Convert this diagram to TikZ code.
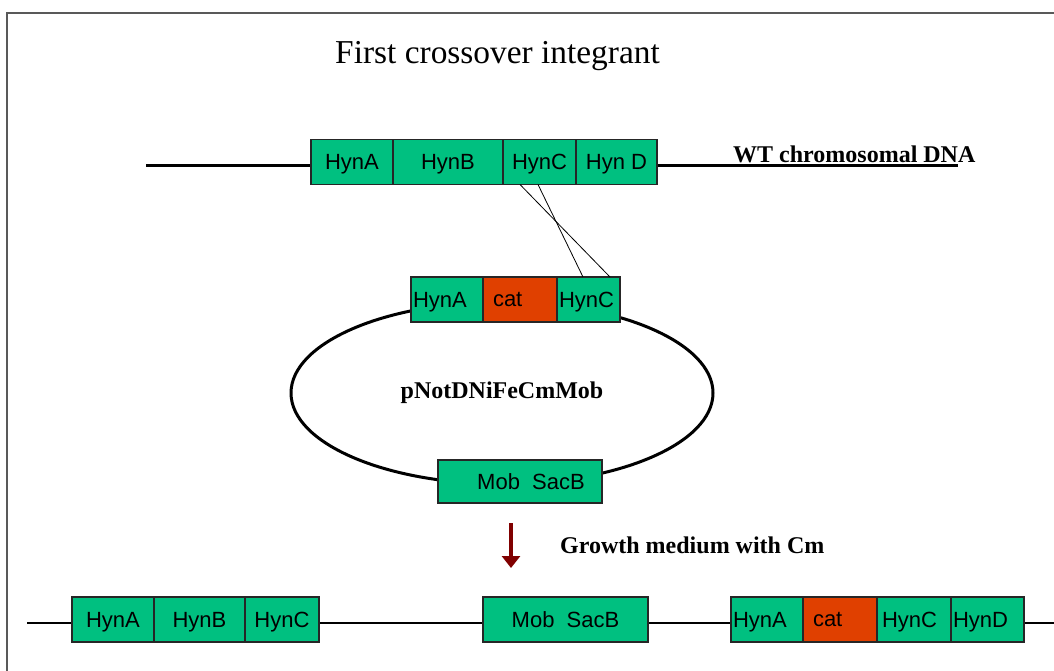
\documentclass[tikz,border=0pt]{standalone}
\usepackage{fontspec}
\setmainfont{Liberation Serif}
\setsansfont{Liberation Sans}
\usetikzlibrary{positioning, shapes.geometric, arrows.meta}
\definecolor{genegreen}{RGB}{0,192,128}
\definecolor{catred}{RGB}{224,64,0}
\definecolor{arrowred}{RGB}{128,0,0}
\tikzset{
  boxbase/.style={rectangle, draw=black!85, line width=1.2pt, fill=genegreen, inner xsep=2pt, inner ysep=0pt, outer sep=0pt, minimum height=45pt, text depth=0pt, font=\sffamily\fontsize{22}{22}\selectfont},
  gene/.style={boxbase, minimum width=#1},
  genel/.style={boxbase, text width=#1, align=left},
  catbox/.style={genel=#1, fill=catred},
  boldlab/.style={font=\bfseries\fontsize{24}{24}\selectfont, inner sep=0pt},
  dna/.style={line width=3pt},
  plasmid/.style={ellipse, draw, line width=3pt, minimum width=422pt, minimum height=182pt, inner sep=0pt, font=\bfseries\fontsize{24}{24}\selectfont},
  cross/.style={line width=0.8pt}
}
\begin{document}
\begin{tikzpicture}[x=1pt, y=-1pt]
\useasboundingbox (0,0) rectangle (1054,671);
% frame
\draw[black!65, line width=2pt] (7.3,671) -- (7.3,13.3) -- (1054,13.3);
\node (title) [anchor=base west, inner sep=0pt, font=\fontsize{33.4}{34}\selectfont] at (335,64) {First crossover integrant};

% wild type chromosome
\coordinate (wtL) at (146,166);
\coordinate (wtR) at (958,166);
\draw[dna] (wtL) -- (wtR);
\node (tA) [gene=82pt, anchor=west, text depth=-4pt] at (311,162) {HynA};
\node (tB) [gene=110pt, right=0pt of tA, text depth=-4pt] {HynB};
\node (tC) [gene=73pt, right=0pt of tB, text depth=-4pt] {HynC};
\node (tD) [gene=81pt, right=0pt of tC, text depth=-4pt] {Hyn D};
\node (wt) [boldlab, anchor=base west] at (733,163) {WT chromosomal DNA};

% plasmid
\node (ring) [plasmid] at (502,393) {pNotDNiFeCmMob};
\node (pA) [genel=68pt, anchor=west] at (411,299.5) {HynA};
\node (pCat) [catbox=70pt, right=0pt of pA] {\hspace*{8pt}cat};
\node (pC) [genel=59pt, right=0pt of pCat] {HynC};
\node (pM) [gene=164pt, minimum height=43pt] at (520,481.5) {\hspace*{22pt}Mob~~SacB};

% crossover
\draw[cross] ([xshift=17pt]tC.south west) -- ([xshift=-10pt]pC.north east);
\draw[cross] ([xshift=35pt]tC.south west) -- ([xshift=26pt]pC.north west);

% selection
\coordinate (arrTop) at (511,523);
\coordinate (arrTip) at (511,568);
\draw[arrowred, line width=4pt, -{Triangle[width=18pt, length=12pt]}] (arrTop) -- (arrTip);
\node (growth) [boldlab, anchor=base west] at (560,553) {Growth medium with Cm};

% integrant
\coordinate (bL) at (27,623);
\coordinate (bR) at (1054,623);
\draw[line width=2pt] (bL) -- (bR);
\node (bA) [gene=82pt, anchor=west] at (72,619.5) {HynA};
\node (bB) [gene=91pt, right=0pt of bA] {HynB};
\node (bC) [gene=74pt, right=0pt of bB] {HynC};
\node (bM) [gene=165pt, anchor=west] at (483,619.5) {Mob~~SacB};
\node (iA) [genel=68pt, anchor=west] at (731,619.5) {HynA};
\node (iCat) [catbox=70pt, right=0pt of iA] {\hspace*{8pt}cat};
\node (iC) [genel=70pt, right=0pt of iCat] {\hspace*{3pt}HynC};
\node (iD) [genel=69pt, right=0pt of iC] {HynD};
\end{tikzpicture}
\end{document}
